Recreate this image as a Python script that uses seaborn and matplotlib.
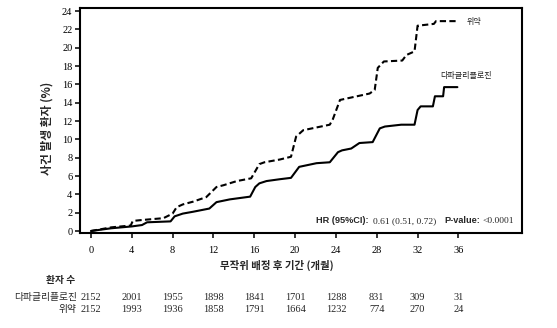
import numpy as np
import pandas as pd
import matplotlib
matplotlib.use("Agg")
import matplotlib.pyplot as plt
import matplotlib.transforms as mtransforms
import seaborn as sns

# ---- data ----
dapa_month = [0, 2, 4, 5, 5.5, 7.8, 8.2, 9, 10, 11.6, 12.3, 13.6, 15.6, 16.1, 16.5, 17.2,
              18.5, 19.6, 20.4, 22.1, 23.4, 24.2, 24.6, 25.5, 26.3, 27.6, 28.3, 28.8, 30.4,
              31.7, 32.0, 32.3, 33.5, 33.7, 34.5, 34.6, 35.9]
dapa_pct = [0, 0.3, 0.5, 0.65, 0.95, 1.05, 1.6, 1.9, 2.1, 2.45, 3.15, 3.45, 3.75, 4.8, 5.2, 5.45,
            5.65, 5.8, 7.0, 7.4, 7.5, 8.6, 8.8, 9.0, 9.6, 9.7, 11.2, 11.4, 11.6,
            11.6, 13.2, 13.6, 13.6, 14.7, 14.7, 15.7, 15.7]

plac_month = [0, 1, 2, 3.9, 4.1, 5, 7.1, 8.0, 8.4, 9.0, 10, 11.3, 12.3, 13, 14.3, 15.7, 16.5,
              17, 18.5, 19.6, 20.1, 20.8, 23.4, 23.7, 24.4, 27.3, 27.8, 28.1, 28.7, 30.5,
              30.9, 31.7, 32.0, 33.6, 33.8, 35.8]
plac_pct = [0, 0.2, 0.4, 0.6, 1.1, 1.2, 1.4, 1.9, 2.6, 2.9, 3.2, 3.7, 4.8, 5.0, 5.45, 5.75, 7.3,
            7.5, 7.8, 8.1, 10.3, 11.0, 11.6, 12.2, 14.3, 15.0, 15.4, 17.8, 18.5, 18.6,
            19.2, 19.6, 22.4, 22.6, 22.9, 22.9]

arm_names = ["다파글리플로진", "위약"]
risk_months = [0, 4, 8, 12, 16, 20, 24, 28, 32, 36]
risk_dapa = [2152, 2001, 1955, 1898, 1841, 1701, 1288, 831, 309, 31]
risk_plac = [2152, 1993, 1936, 1858, 1791, 1664, 1232, 774, 270, 24]

y_ticks = list(range(0, 25, 2))

df = pd.concat([
    pd.DataFrame({"month": dapa_month, "pct": dapa_pct, "arm": arm_names[0]}),
    pd.DataFrame({"month": plac_month, "pct": plac_pct, "arm": arm_names[1]}),
], ignore_index=True)

sns.set_theme(style="white")
plt.rcParams["font.family"] = ["Liberation Serif", "Noto Sans CJK KR"]
KR = ["Noto Sans CJK KR", "DejaVu Sans"]

W, H = 557, 328
fig = plt.figure(figsize=(W / 100, H / 100), dpi=100)
ax_l, ax_r, ax_t, ax_b = 80, 521.7, 8.3, 233.3
ax = fig.add_axes([ax_l / W, 1 - ax_b / H, (ax_r - ax_l) / W, (ax_b - ax_t) / H])

sns.lineplot(data=df, x="month", y="pct", style="arm",
             dashes={arm_names[0]: "", arm_names[1]: (3, 1.6)},
             color="black", linewidth=1.5, estimator=None, sort=False,
             legend=False, ax=ax)

ax.set_xlim(-1.07, 42.2)
ax.set_ylim(-0.25, 24.3)
ax.set_xticks(risk_months)
ax.set_yticks(y_ticks)
ax.tick_params(axis="both", direction="out", length=3.5, width=1.1, color="black",
               labelsize=7.5, labelcolor="black", left=True, bottom=True)
ax.tick_params(axis="x", pad=6)
ax.tick_params(axis="y", pad=2)
for s in ax.spines.values():
    s.set_linewidth(1.5)
    s.set_color("black")
ax.set_xlabel("")
ax.set_ylabel("")

def fx(px):
    return px / W

def fy(py):
    return 1 - py / H

# axis titles
fig.text(fx(47.5), fy(128.5), "사건 발생 환자 (%)", rotation=90, ha="center", va="center",
         fontsize=8.5, fontweight="bold", family=KR)
fig.text(fx(277), fy(265), "무작위 배정 후 기간 (개월)", ha="center", va="center",
         fontsize=7.5, fontweight="bold", family=KR)

# curve labels
ax.text(36.8, 22.85, "위약", ha="left", va="center", fontsize=5.8, family=KR, color="#222222")
ax.text(34.25, 17.0, "다파글리플로진", ha="left", va="center", fontsize=5.8, family=KR, color="#222222")

# HR text
def axfx(px):
    return (px - ax_l) / (ax_r - ax_l)

hy = (ax_b - 220.7) / (ax_b - ax_t)
ax.text(axfx(315.7), hy, "HR (95%CI):", transform=ax.transAxes, ha="left", va="center",
        fontsize=6.6, fontweight="bold", family=["Liberation Sans"])
ax.text(axfx(372.7), hy, "0.61 (0.51, 0.72)", transform=ax.transAxes, ha="left", va="center",
        fontsize=6.8, family=["Liberation Serif"])
ax.text(axfx(444), hy, "P-value:", transform=ax.transAxes, ha="left", va="center",
        fontsize=6.6, fontweight="bold", family=["Liberation Sans"])
ax.text(axfx(482.7), hy, "<0.0001", transform=ax.transAxes, ha="left", va="center",
        fontsize=6.8, family=["Liberation Serif"])

# number at risk table
fig.text(fx(75), fy(280), "환자 수", ha="right", va="center", fontsize=7,
         fontweight="bold", family=KR)
fig.text(fx(77), fy(297), arm_names[0], ha="right", va="center", fontsize=7, family=KR)
fig.text(fx(77), fy(309), arm_names[1], ha="right", va="center", fontsize=7, family=KR)
blend = mtransforms.blended_transform_factory(ax.transData, fig.transFigure)
for m, a, b in zip(risk_months, risk_dapa, risk_plac):
    ax.text(m, fy(297), str(a), transform=blend, ha="center", va="center", fontsize=7.5,
            clip_on=False)
    ax.text(m, fy(309), str(b), transform=blend, ha="center", va="center", fontsize=7.5,
            clip_on=False)

fig.savefig("out.png", dpi=100, facecolor="white")
